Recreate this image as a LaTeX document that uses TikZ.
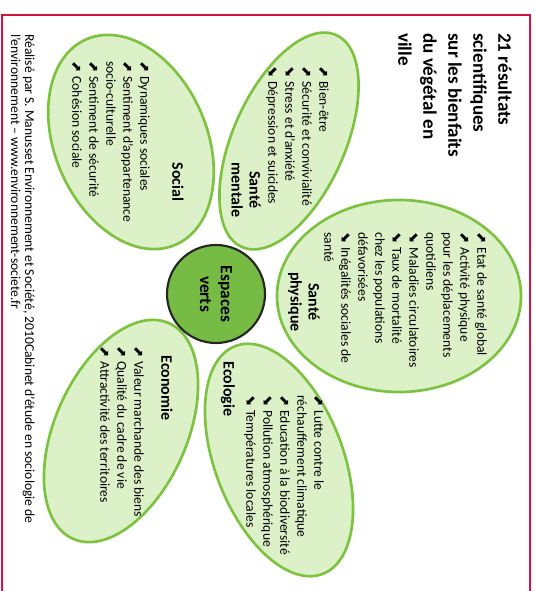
\documentclass[tikz,border=0pt]{standalone}
\usepackage{fontspec}
\setmainfont{Carlito}
\newfontfamily\flechefont{DejaVu Sans}
\usetikzlibrary{shapes.geometric}

\definecolor{cadre}{RGB}{205,22,58}
\definecolor{petale}{RGB}{220,241,200}
\definecolor{bord}{RGB}{125,195,65}
\definecolor{vertfonce}{RGB}{118,188,68}

\newcommand{\hausse}{{\flechefont\fontsize{10}{12.75}\selectfont ⬈}\hspace{0.3em}}
\newcommand{\baisse}{{\flechefont\fontsize{10}{12.75}\selectfont ⬊}\hspace{0.3em}}

\tikzset{
  petal/.style={ellipse, draw=bord, line width=2pt, fill=petale, inner sep=0pt},
  liste/.style={rotate=-90, anchor=north west, align=left, inner sep=0pt,
    font=\fontsize{10.2}{12.75}\selectfont},
  entete/.style={rotate=-90, align=center, inner sep=0pt,
    font=\bfseries\fontsize{12}{13.5}\selectfont}
}

\begin{document}
\begin{tikzpicture}[x=0.75pt,y=-0.75pt]
    \useasboundingbox (0,0) rectangle (536,591);
    \draw[cadre, line width=2.2pt] (2,591) -- (2,15) -- (530,15) -- (530,591);

    % petales
    \node[petal, minimum width=183pt, minimum height=144pt] (physique) at (399,296) {};
    \node[petal, minimum width=84pt, minimum height=174pt, rotate=-24] (mentale) at (289,141) {};
    \node[petal, minimum width=114pt, minimum height=168pt, rotate=23.5] (social) at (131,142) {};
    \node[petal, minimum width=96pt, minimum height=183pt, rotate=21] (ecologie) at (279,460) {};
    \node[petal, minimum width=99pt, minimum height=177pt, rotate=-24] (economie) at (121,431) {};
    \node[circle, draw=black!85, line width=1.6pt, fill=vertfonce, minimum size=73.5pt,
      rotate=-90, align=center, inner sep=0pt,
      font=\bfseries\fontsize{13}{15.5}\selectfont] (centre) at (216,294) {Espaces\\verts};

    \node[rotate=-90, anchor=north west, align=left, inner sep=0pt,
      font=\bfseries\fontsize{14.3}{18.75}\selectfont] (titre) at (512,33)
      {21 résultats\\scientifiques\\sur les bienfaits\\du végétal en\\ville};

    % textes des petales
    \node[liste] (physTxt) at (487,232) {\hausse Etat de santé global\\\hausse Activité physique\\pour les déplacements\\quotidiens\\\baisse Maladies circulatoires\\\baisse Taux de mortalité\\chez les populations\\défavorisées\\\baisse Inégalités sociales de\\santé};
    \node[entete] (physTit) at (304,302) {Santé\\physique};

    \node[liste] (mentTxt) at (329,66) {\hausse Bien-être\\\hausse Sécurité et convivialité\\\baisse Stress et d'anxiété\\\baisse Dépression et suicides};
    \node[entete] (mentTit) at (246,190) {Santé\\mentale};

    \node[liste] (socTxt) at (150,61) {\hausse Dynamiques sociales\\\hausse Sentiment d'appartenance\\socio-culturelle\\\hausse Sentiment de sécurité\\\hausse Cohésion sociale};
    \node[entete] (socTit) at (178,182) {Social};

    \node[liste] (ecoTxt) at (324,395) {\hausse Lutte contre le\\réchauffement climatique\\\hausse Education à la biodiversité\\\baisse Pollution atmosphérique\\\baisse Températures locales};
    \node[entete] (ecoTit) at (228,389) {Ecologie};

    \node[liste] (econTxt) at (144,346) {\hausse Valeur marchande des biens\\\hausse Qualité du cadre de vie\\\hausse Attractivité des territoires};
    \node[entete] (econTit) at (167,388) {Economie};

    \node[rotate=-90, anchor=north west, align=left, inner sep=0pt,
      font=\fontsize{10.2}{10.5}\selectfont] (credit) at (35,34)
      {Réalisé par S. Manusset Environnement et Société, 2010Cabinet d'étude en sociologie de\\l'environnement -- www.environnement-societe.fr};
\end{tikzpicture}
\end{document}
